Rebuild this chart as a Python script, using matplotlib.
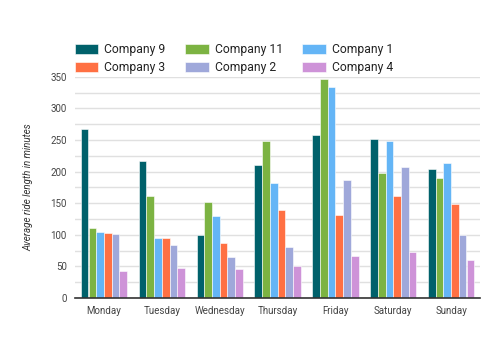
import matplotlib
matplotlib.use("Agg")
import matplotlib.pyplot as plt
import numpy as np
from matplotlib.ticker import MultipleLocator

plt.rcParams['font.family'] = ['Roboto', 'DejaVu Sans']

days = ["Monday", "Tuesday", "Wednesday", "Thursday", "Friday", "Saturday", "Sunday"]
company_9 = [267, 217, 100, 210, 258, 252, 204]
company_11 = [110, 162, 152, 248, 346, 198, 190]
company_1 = [105, 95, 130, 182, 333, 248, 214]
company_3 = [102, 95, 87, 139, 131, 162, 149]
company_2 = [101, 83, 64, 81, 186, 207, 100]
company_4 = [42, 48, 45, 50, 67, 73, 60]

series = [
    ("Company 9", company_9, "#00616b"),
    ("Company 11", company_11, "#7cb342"),
    ("Company 1", company_1, "#64b5f6"),
    ("Company 3", company_3, "#ff7043"),
    ("Company 2", company_2, "#9fa8da"),
    ("Company 4", company_4, "#ce93d8"),
]

fig = plt.figure(figsize=(5, 3.62), dpi=100)
ax = fig.add_axes([0.15, 0.177, 0.81, 0.611])

x = np.arange(len(days))
n = len(series)
group = 0.8
w = group / n
handles = {}
for i, (name, vals, col) in enumerate(series):
    pos = x - group / 2 + w * (i + 0.5)
    b = ax.bar(pos, vals, width=w, color=col, edgecolor="white", linewidth=0.4, label=name, zorder=3)
    handles[name] = b

ax.set_xlim(-0.5, len(days) - 0.5)
ax.set_ylim(0, 350)
ax.yaxis.set_major_locator(MultipleLocator(50))
ax.yaxis.set_minor_locator(MultipleLocator(25))
ax.grid(axis="y", which="both", color="#e0e0e0", linewidth=1, zorder=0)
ax.set_xticks(x)
ax.set_xticklabels(days)
for s in ["top", "right", "left"]:
    ax.spines[s].set_visible(False)
ax.spines["bottom"].set_color("#333333")
ax.spines["bottom"].set_linewidth(1.2)
ax.spines["bottom"].set_zorder(4)
ax.tick_params(axis="both", which="both", length=0, labelsize=7, labelcolor="#444444", pad=6)
ax.set_ylabel("Average ride length in minutes", fontsize=7, style="italic", color="#333333", labelpad=12)

order = ["Company 9", "Company 3", "Company 11", "Company 2", "Company 1", "Company 4"]
fig.legend([handles[k] for k in order], order, loc="upper left", bbox_to_anchor=(0.14, 0.894),
           ncol=3, frameon=False, fontsize=8.7, handlelength=1.95, handleheight=0.95,
           columnspacing=1.6, handletextpad=0.5, labelspacing=0.4, borderaxespad=0,
           labelcolor="#222222")

fig.savefig("out.png", dpi=100)
